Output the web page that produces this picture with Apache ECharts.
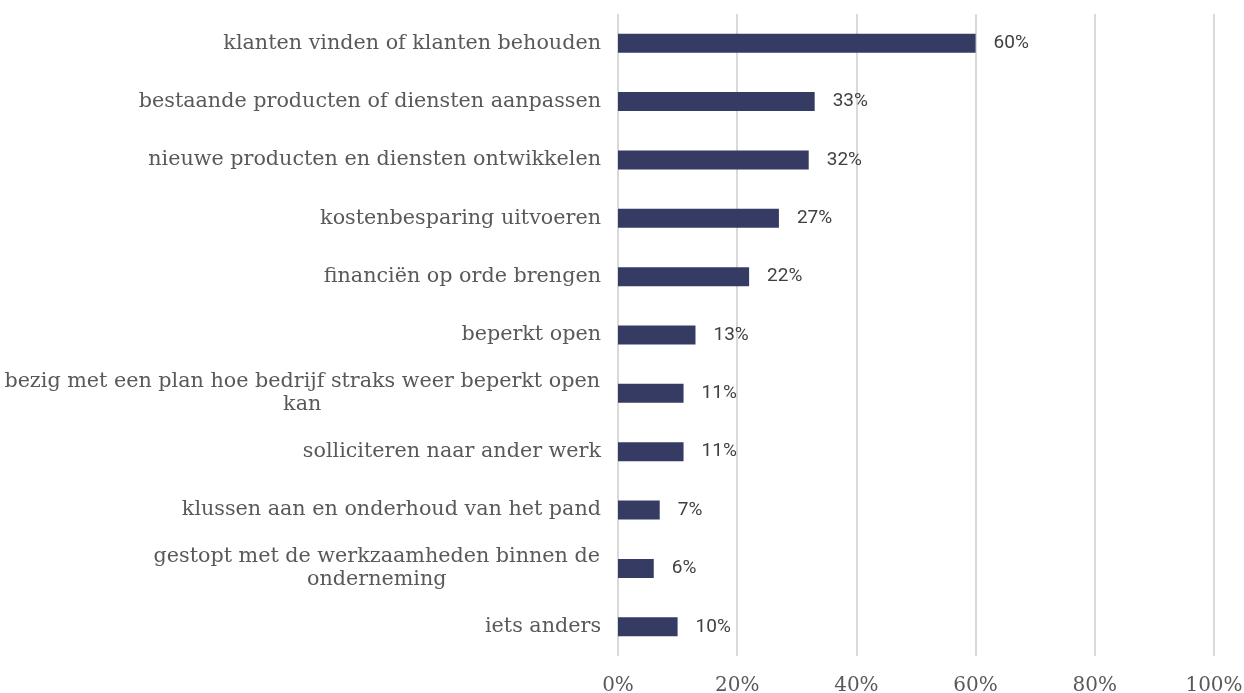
<!DOCTYPE html>
<html>
<head>
<meta charset="utf-8">
<script src="https://cdn.jsdelivr.net/npm/echarts@6/dist/echarts.min.js"></script>
<style>
html,body{margin:0;padding:0;background:#fff;}
#chart{width:1244px;height:693px;}
</style>
</head>
<body>
<div id="chart"></div>
<script>
const categories = [
  "klanten vinden of klanten behouden",
  "bestaande producten of diensten aanpassen",
  "nieuwe producten en diensten ontwikkelen",
  "kostenbesparing uitvoeren",
  "financiën op orde brengen",
  "beperkt open",
  "bezig met een plan hoe bedrijf straks weer beperkt open\nkan",
  "solliciteren naar ander werk",
  "klussen aan en onderhoud van het pand",
  "gestopt met de werkzaamheden binnen de\nonderneming",
  "iets anders"
];
const values = [60, 33, 32, 27, 22, 13, 11, 11, 7, 6, 10];
const xTicks = [0, 20, 40, 60, 80, 100];

const catFontSize = 20.7;
const catFamily = '"DejaVu Serif"';
const catFont = catFontSize + 'px ' + catFamily;

// measure lines to center wrapped labels within their block
const cv = document.createElement('canvas').getContext('2d');
cv.font = catFont;
const rich = {};
const fmtMap = {};
categories.forEach((c, i) => {
  const lines = c.split('\n');
  if (lines.length > 1) {
    const w = Math.max(...lines.map(l => cv.measureText(l).width)) + 2;
    rich['r' + i] = {width: w, align: 'center', fontSize: catFontSize, fontFamily: catFamily, color: '#595959', lineHeight: 23};
    fmtMap[c] = lines.map(l => '{r' + i + '|' + l + '}').join('\n');
  }
});

const chart = echarts.init(document.getElementById('chart'), null, {renderer: 'canvas'});
chart.setOption({
  animation: false,
  grid: {left: 618, right: 30, top: 14, bottom: 37, containLabel: false, outerBoundsMode: 'none'},
  xAxis: {
    type: 'value', min: 0, max: 100, interval: 20,
    axisLine: {show: false}, axisTick: {show: false},
    splitLine: {show: true, lineStyle: {color: '#d9d9d9', width: 2}},
    axisLabel: {
      margin: 20,
      color: '#595959', fontSize: 20, fontFamily: catFamily,
      formatter: v => xTicks.includes(v) ? v + '%' : ''
    }
  },
  yAxis: {
    type: 'category', data: categories, inverse: true,
    axisLine: {show: false}, axisTick: {show: false},
    axisLabel: {
      margin: 17, color: '#595959', fontSize: catFontSize, fontFamily: catFamily,
      lineHeight: 23, align: 'right',
      formatter: v => fmtMap[v] || v,
      rich: rich
    }
  },
  series: [{
    type: 'bar', data: values, barWidth: 19,
    itemStyle: {color: '#363b64'},
    label: {
      show: true, position: 'right', distance: 18,
      formatter: p => p.value + '%',
      color: '#404040', fontSize: 19, fontFamily: 'Roboto'
    }
  }]
});
</script>
</body>
</html>
